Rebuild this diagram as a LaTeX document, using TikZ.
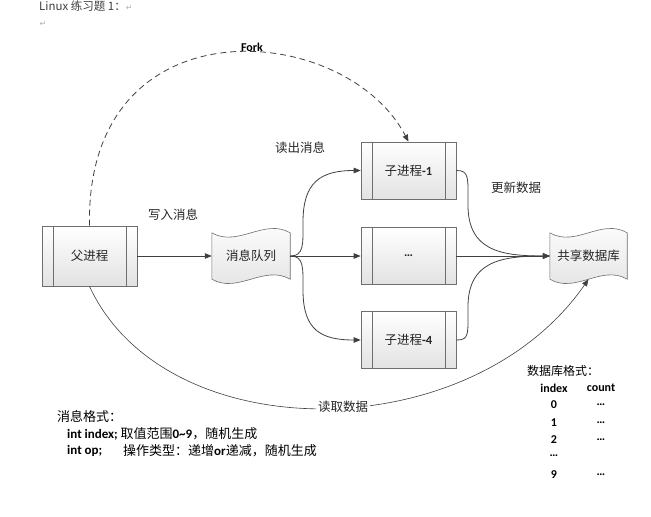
\documentclass[tikz,border=0pt]{standalone}
\usepackage{fontspec}
\setmainfont{Carlito}
\newfontfamily\cjk{Noto Sans CJK SC}
\newfontfamily\djv{DejaVu Sans}
\usetikzlibrary{arrows.meta,calc}
\definecolor{linec}{HTML}{404040}
\definecolor{boxc}{HTML}{6E6E6E}
\definecolor{fillb}{HTML}{E2E2E2}
\newcommand\latb[1]{{\rmfamily\bfseries #1}}
\newcommand\wavebox[1]{%
  \shade[top color=white,bottom color=fillb,draw=boxc,line width=0.6pt]
    (#1.north west) .. controls ($(#1.north west)!0.333!(#1.north east)+(0,15)$)
      and ($(#1.north west)!0.667!(#1.north east)+(0,-15)$) .. (#1.north east)
    -- (#1.south east) .. controls ($(#1.south west)!0.667!(#1.south east)+(0,-15)$)
      and ($(#1.south west)!0.333!(#1.south east)+(0,15)$) .. (#1.south west) -- cycle;}
\tikzset{
  procbox/.style={rectangle, draw=boxc, line width=0.6pt, top color=white, bottom color=fillb,
    minimum width=95pt, minimum height=#1, inner sep=0pt,
    font=\cjk\fontsize{12.5}{14}\selectfont, text=black!85},
  wavenode/.style={rectangle, draw=none, minimum width=#1, minimum height=46pt, inner sep=0pt},
  boxtxt/.style={font=\cjk\fontsize{12.5}{14}\selectfont, text=black!85, inner sep=0pt},
  lbl/.style={font=\cjk\fontsize{12.5}{14}\selectfont, text=black!85, inner sep=0pt},
  note/.style={font=\cjk\fontsize{13}{15}\selectfont, text=black, inner sep=0pt, anchor=west},
  dbnote/.style={font=\cjk\fontsize{12}{14}\selectfont, text=black, inner sep=0pt, anchor=west},
  tbl/.style={font=\rmfamily\bfseries\fontsize{12}{14}\selectfont, text=black, inner sep=0pt},
  conn/.style={draw=linec, line width=0.8pt, -{Triangle[length=7pt,width=5.5pt]}},
  innerln/.style={draw=boxc, line width=0.6pt}
}
\begin{document}
\begin{tikzpicture}[x=1pt,y=-1pt]
\useasboundingbox (0,0) rectangle (651,517);
% title
\node[anchor=west, font=\cjk\fontsize{11.5}{13}\selectfont, text=black!75, inner sep=0pt] (title) at (39,6.5) {Linux 练习题 1：{\djv\fontsize{8}{10}\selectfont\color{gray!60}↵}};
\node[font=\djv\fontsize{8}{10}\selectfont, text=gray!60, inner sep=0pt] (ret) at (43,24) {↵};
% process boxes
\node[procbox=60pt] (parent) at (89.5,256) {父进程};
\node[procbox=57pt] (c1) at (408.5,170.5) {子进程\latb{-1}};
\node[procbox=57pt] (cm) at (408.5,256) {\latb{…}};
\node[procbox=57pt] (c4) at (408.5,340) {子进程\latb{-4}};
\foreach \n in {parent,c1,cm,c4}{
  \draw[innerln] ([xshift=11.5pt]\n.north west) -- ([xshift=11.5pt]\n.south west);
  \draw[innerln] ([xshift=-11.5pt]\n.north east) -- ([xshift=-11.5pt]\n.south east);
}
% wave shapes
\node[wavenode=78pt] (queue) at (251,256) {};
\wavebox{queue}
\node[boxtxt] (queuet) at (queue.center) {消息队列};
\node[wavenode=77pt] (db) at (588.5,256) {};
\wavebox{db}
\node[boxtxt] (dbt) at (db.center) {共享数据库};
% connectors
\draw[conn] (parent.east) -- (queue.west);
\draw[conn] (queue.east) .. controls +(14,0) and +(0,22) .. (303,222) .. controls +(0,-40) and +(-40,0) .. (c1.west);
\draw[conn] (queue.east) -- (cm.west);
\draw[conn] (queue.east) .. controls +(14,0) and +(0,-22) .. (303,290) .. controls +(0,40) and +(-40,0) .. (c4.west);
\draw[conn] (c1.east) .. controls +(13,0) and +(0,-28) .. (468,205) .. controls +(0,45) and +(-50,0) .. (db.west);
\draw[conn] (cm.east) -- (db.west);
\draw[conn] (c4.east) .. controls +(13,0) and +(0,28) .. (468,307) .. controls +(0,-45) and +(-50,0) .. (db.west);
\draw[conn, dash pattern=on 6pt off 4pt] (parent.north) .. controls (85,0) and (345,20) .. (c1.north);
\draw[conn, line width=0.6pt] (parent.south) .. controls (165,450) and (470,450) .. (db.south);
% labels
\node[font=\rmfamily\bfseries\fontsize{12}{14}\selectfont, inner sep=0pt] (fork) at (252,47) {Fork};
\node[lbl] (lw) at (173,215) {写入消息};
\node[lbl] (lr) at (300,148) {读出消息};
\node[lbl] (lu) at (516,188) {更新数据};
\node[lbl, fill=white, inner sep=2pt] (lg) at (343,407) {读取数据};
% message format
\node[note] (mf) at (57,417) {消息格式：};
\node[note] (m1) at (67,434) {\latb{int index;} 取值范围\latb{0\char`\~9}，随机生成};
\node[note] (m2a) at (67,451) {\latb{int op;}};
\node[note] (m2b) at (123,451) {操作类型：递增\latb{or}递减，随机生成};
% db format
\node[dbnote] (df) at (527,371) {数据库格式：};
\node[tbl] (ti) at (554,388) {index};
\node[tbl] (tc) at (601,388) {count};
\node[tbl] (r0) at (554,405) {0};
\node[tbl] (r1) at (554,423) {1};
\node[tbl] (r2) at (554,440) {2};
\node[tbl] (r3) at (554,456) {…};
\node[tbl] (r9) at (554,475) {9};
\node[tbl] (d0) at (601,405) {…};
\node[tbl] (d1) at (601,423) {…};
\node[tbl] (d2) at (601,440) {…};
\node[tbl] (d9) at (601,475) {…};
\end{tikzpicture}
\end{document}
